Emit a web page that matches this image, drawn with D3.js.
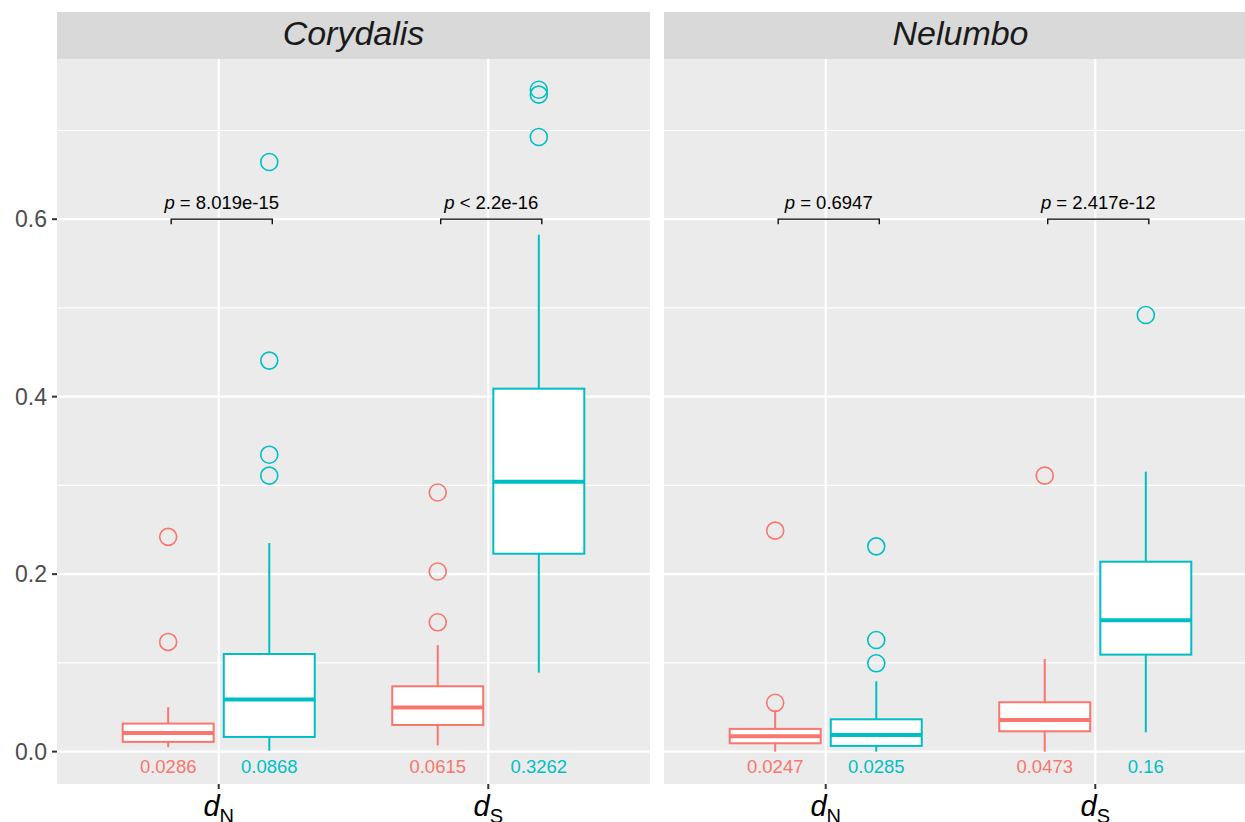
<!DOCTYPE html>
<html>
<head>
<meta charset="utf-8">
<script src="https://cdn.jsdelivr.net/npm/d3@7"></script>
<style>
  body { margin: 0; background: #fff; }
  text { font-family: "Liberation Sans", Arial, Helvetica, sans-serif; }
</style>
</head>
<body>
<div id="chart"></div>
<script>
// facets, x categories and the two colour groups
const panels = ['Corydalis', 'Nelumbo'];
const measures = ['dN', 'dS'];
const measureSub = ['N', 'S'];
const groups = ['g1', 'g2'];

// one entry per box (panel, measure, group)
const boxPanel   = ['Corydalis', 'Corydalis', 'Corydalis', 'Corydalis', 'Nelumbo', 'Nelumbo', 'Nelumbo', 'Nelumbo'];
const boxMeasure = ['dN', 'dN', 'dS', 'dS', 'dN', 'dN', 'dS', 'dS'];
const boxGroup   = ['g1', 'g2', 'g1', 'g2', 'g1', 'g2', 'g1', 'g2'];
const whiskerLow  = [0.005, 0.001, 0.007, 0.089, 0.0, 0.0, 0.0, 0.0218];
const q1          = [0.011, 0.0165, 0.030, 0.223, 0.0094, 0.0064, 0.0229, 0.1093];
const median      = [0.021, 0.0586, 0.0496, 0.304, 0.0173, 0.0188, 0.0357, 0.148];
const q3          = [0.0316, 0.110, 0.0736, 0.409, 0.0256, 0.0364, 0.0556, 0.214];
const whiskerHigh = [0.050, 0.235, 0.120, 0.5825, 0.0466, 0.0792, 0.1044, 0.3155];
const outliers = [
  [0.1236, 0.242],
  [0.311, 0.3346, 0.4406, 0.6644],
  [0.1457, 0.203, 0.292],
  [0.6926, 0.7403, 0.7459],
  [0.055, 0.249],
  [0.0995, 0.1258, 0.2313],
  [0.311],
  [0.492]
];
const meanLabels = ['0.0286', '0.0868', '0.0615', '0.3262', '0.0247', '0.0285', '0.0473', '0.16'];
const labelY = -0.017;

// significance brackets, one per panel & measure
const testPanel   = ['Corydalis', 'Corydalis', 'Nelumbo', 'Nelumbo'];
const testMeasure = ['dN', 'dS', 'dN', 'dS'];
const testLabel   = ['= 8.019e-15', '< 2.2e-16', '= 0.6947', '= 2.417e-12'];
const bracketY = 0.6;

const yTicks = [0.0, 0.2, 0.4, 0.6];
const yMinor = [0.1, 0.3, 0.5, 0.7];

const W = 1245, H = 822;
const panelW = 593, panelTop = 59, panelBottom = 784, stripTop = 12;
const panelLeft = {Corydalis: 57, Nelumbo: 664};
const colors = d3.scaleOrdinal(groups, ['#F8766D', '#00BFC4']);

const svg = d3.select('#chart').append('svg')
  .attr('width', W).attr('height', H);

const y = d3.scaleLinear().domain([-0.0365, 0.7805]).range([panelBottom, panelTop]);
const x = d3.scalePoint().domain(measures).range([0, panelW]).padding(0.6);
const step = x.step();
const dodge = d3.scaleBand().domain(groups).range([-step * 0.375, step * 0.375]);
const boxW = dodge.bandwidth() * 0.9;
const xc = (g) => dodge(g) + dodge.bandwidth() / 2;

const boxes = boxPanel.map((p, i) => ({
  panel: p, measure: boxMeasure[i], group: boxGroup[i],
  lo: whiskerLow[i], q1: q1[i], med: median[i], q3: q3[i], hi: whiskerHigh[i],
  out: outliers[i], label: meanLabels[i]
}));

panels.forEach(p => {
  const g = svg.append('g').attr('transform', `translate(${panelLeft[p]},0)`);

  // strip
  g.append('rect').attr('x', 0).attr('y', stripTop).attr('width', panelW)
    .attr('height', panelTop - stripTop).attr('fill', '#D9D9D9');
  g.append('text').attr('x', panelW / 2).attr('y', 45)
    .attr('text-anchor', 'middle').attr('font-size', 34).attr('font-style', 'italic')
    .attr('fill', '#1A1A1A').text(p);

  // panel background + grid
  g.append('rect').attr('x', 0).attr('y', panelTop).attr('width', panelW)
    .attr('height', panelBottom - panelTop).attr('fill', '#EBEBEB');
  g.selectAll('.minor').data(yMinor).join('line')
    .attr('x1', 0).attr('x2', panelW).attr('y1', d => y(d)).attr('y2', d => y(d))
    .attr('stroke', '#fff').attr('stroke-width', 1.1);
  g.selectAll('.major').data(yTicks).join('line')
    .attr('x1', 0).attr('x2', panelW).attr('y1', d => y(d)).attr('y2', d => y(d))
    .attr('stroke', '#fff').attr('stroke-width', 2.2);
  g.selectAll('.vgrid').data(measures).join('line')
    .attr('x1', d => x(d)).attr('x2', d => x(d)).attr('y1', panelTop).attr('y2', panelBottom)
    .attr('stroke', '#fff').attr('stroke-width', 2.2);

  // boxes
  const pb = boxes.filter(b => b.panel === p);
  const bg = g.selectAll('.box').data(pb).join('g')
    .attr('transform', b => `translate(${x(b.measure) + xc(b.group)},0)`);

  bg.append('line').attr('x1', 0).attr('x2', 0)
    .attr('y1', b => y(b.hi)).attr('y2', b => y(b.q3))
    .attr('stroke', b => colors(b.group)).attr('stroke-width', 2);
  bg.append('line').attr('x1', 0).attr('x2', 0)
    .attr('y1', b => y(b.q1)).attr('y2', b => y(b.lo))
    .attr('stroke', b => colors(b.group)).attr('stroke-width', 2);
  bg.append('rect').attr('x', -boxW / 2).attr('width', boxW)
    .attr('y', b => y(b.q3)).attr('height', b => y(b.q1) - y(b.q3))
    .attr('fill', '#fff').attr('stroke', b => colors(b.group)).attr('stroke-width', 2);
  bg.append('line').attr('x1', -boxW / 2).attr('x2', boxW / 2)
    .attr('y1', b => y(b.med)).attr('y2', b => y(b.med))
    .attr('stroke', b => colors(b.group)).attr('stroke-width', 4);
  bg.selectAll('circle').data(b => b.out.map(v => ({v, group: b.group}))).join('circle')
    .attr('cx', 0).attr('cy', d => y(d.v)).attr('r', 8.5)
    .attr('fill', 'none').attr('stroke', d => colors(d.group)).attr('stroke-width', 1.6);
  bg.append('text').attr('x', 0).attr('y', y(labelY))
    .attr('dy', '0.36em').attr('text-anchor', 'middle').attr('font-size', 18.5)
    .attr('fill', b => colors(b.group)).text(b => b.label);

  // brackets
  testPanel.forEach((tp, i) => {
    if (tp !== p) return;
    const m = testMeasure[i];
    const x1 = x(m) + xc(groups[0]) + 3, x2 = x(m) + xc(groups[1]) + 3;
    const yb = y(bracketY);
    g.append('path')
      .attr('d', `M${x1},${yb + 5}V${yb}H${x2}V${yb + 5}`)
      .attr('fill', 'none').attr('stroke', '#000').attr('stroke-width', 1.3);
    const t = g.append('text').attr('x', (x1 + x2) / 2).attr('y', yb - 10)
      .attr('text-anchor', 'middle').attr('font-size', 18.5).attr('fill', '#000');
    t.append('tspan').attr('font-style', 'italic').text('p');
    t.append('tspan').text(' ' + testLabel[i]);
  });

  // x axis
  g.selectAll('.xtick').data(measures).join('line')
    .attr('x1', d => x(d)).attr('x2', d => x(d)).attr('y1', panelBottom).attr('y2', panelBottom + 5)
    .attr('stroke', '#333').attr('stroke-width', 2);
  const xl = g.selectAll('.xlab').data(measures).join('text')
    .attr('x', d => x(d)).attr('y', 816).attr('text-anchor', 'middle')
    .attr('font-size', 29).attr('fill', '#000');
  xl.append('tspan').attr('font-style', 'italic').text('d');
  xl.append('tspan').attr('font-size', 20).attr('dy', 7).text((d, i) => measureSub[i]);
});

// y axis on the left panel only
const ya = svg.append('g').attr('transform', `translate(${panelLeft.Corydalis},0)`);
ya.selectAll('line').data(yTicks).join('line')
  .attr('x1', -5).attr('x2', 0).attr('y1', d => y(d)).attr('y2', d => y(d))
  .attr('stroke', '#333').attr('stroke-width', 2);
ya.selectAll('text').data(yTicks).join('text')
  .attr('x', -10).attr('y', d => y(d)).attr('dy', '0.36em').attr('text-anchor', 'end')
  .attr('font-size', 23).attr('fill', '#4D4D4D').text(d => d3.format('.1f')(d));
</script>
</body>
</html>
